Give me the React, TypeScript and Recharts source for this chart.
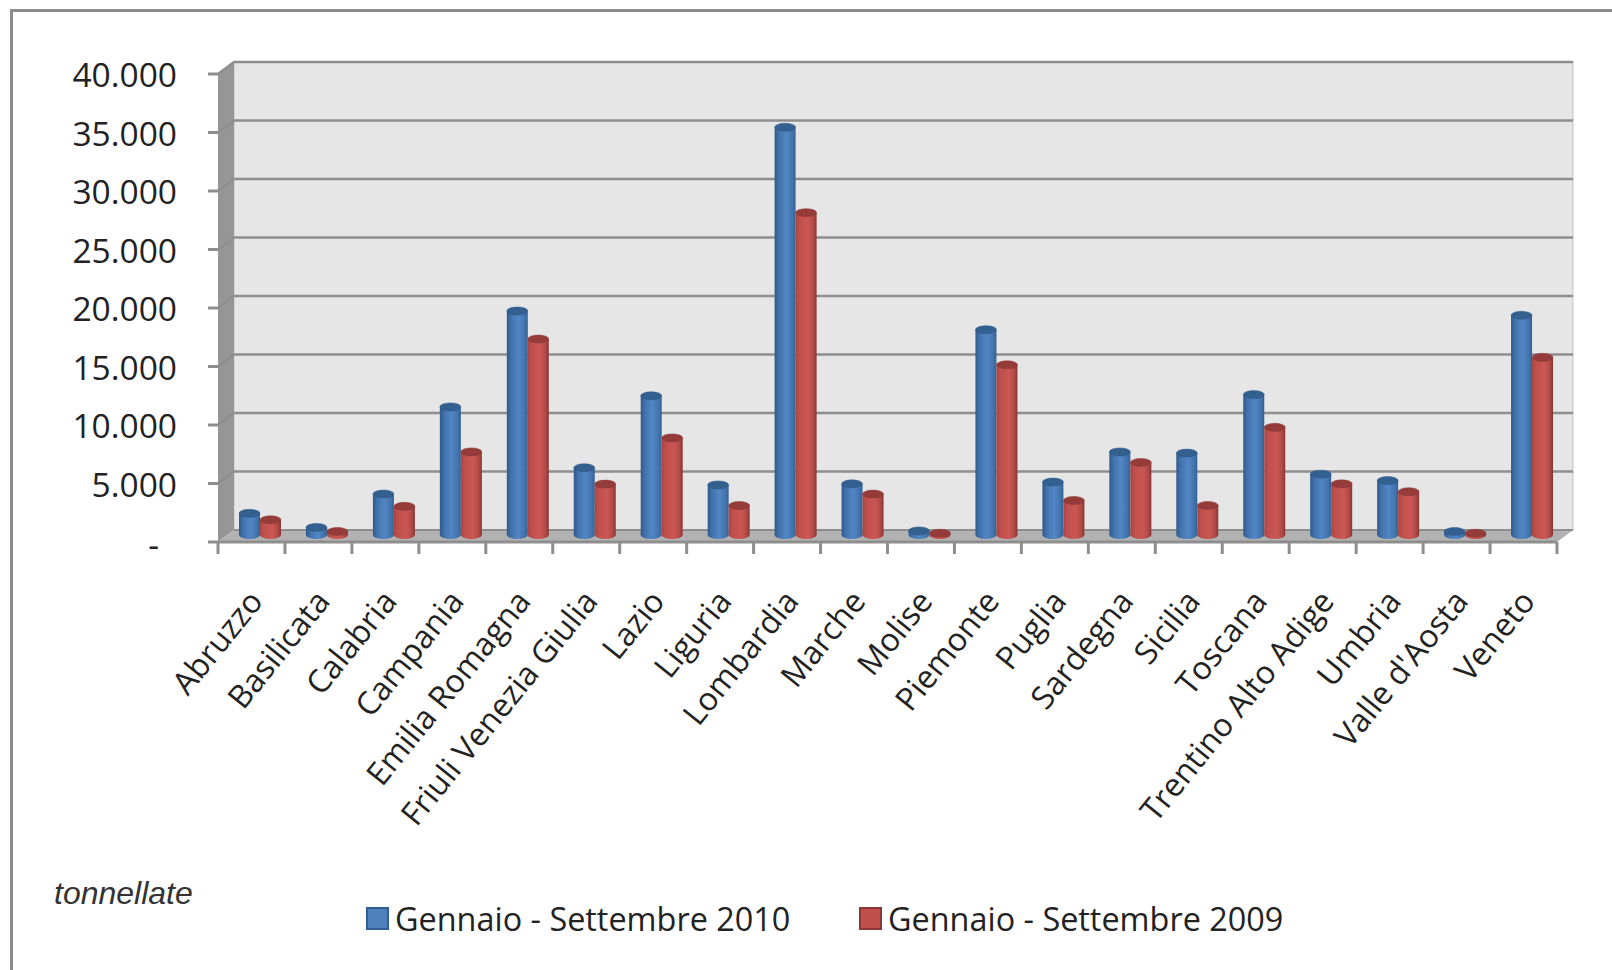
import React from "react";
import { BarChart, Bar, XAxis, YAxis, ReferenceArea, Legend } from "recharts";

const categories = ["Abruzzo","Basilicata","Calabria","Campania","Emilia Romagna","Friuli Venezia Giulia","Lazio","Liguria","Lombardia","Marche","Molise","Piemonte","Puglia","Sardegna","Sicilia","Toscana","Trentino Alto Adige","Umbria","Valle d'Aosta","Veneto"];
const values2010 = [1850,650,3500,10950,19150,5750,11900,4280,34850,4370,350,17550,4530,7100,7000,12000,5200,4650,300,18780];
const values2009 = [1300,300,2450,7100,16750,4350,8300,2520,27550,3500,150,14550,2950,6200,2520,9200,4370,3700,150,15180];
const yTicks = [0,5000,10000,15000,20000,25000,30000,35000,40000];
const seriesNames = ["Gennaio - Settembre 2010","Gennaio - Settembre 2009"];
const unitLabel = "tonnellate";

const data = categories.map((c, i) => ({ name: c, a: values2010[i], b: values2009[i] }));
const DX = 16, DY = 12;
const FONT = "'Open Sans', sans-serif";
const fmt = (v: number) => v === 0 ? "-" : v.toLocaleString("de-DE");

const Walls = ({ x, y, width, height }: any) => (
  <g>
    <rect x={x + DX} y={y - DY} width={width} height={height} fill="#e6e6e6" stroke="#c4c4c4" strokeWidth={1} />
    <polygon points={`${x},${y} ${x + DX},${y - DY} ${x + DX},${y + height - DY} ${x},${y + height}`} fill="#969696" />
    <polygon points={`${x},${y + height} ${x + DX},${y + height - DY} ${x + DX + width},${y + height - DY} ${x + width},${y + height}`} fill="#b2b2b2" />
    <line x1={x + DX} x2={x + DX + width} y1={y + height - DY} y2={y + height - DY} stroke="#8e8e8e" strokeWidth={2} />
  </g>
);

// Top edge of a band between two value ticks: one gridline on the back wall and its stub on the side wall.
const GridBand = ({ x, y, width }: any) => (
  <polyline points={`${x},${y} ${x + DX},${y - DY} ${x + width + DX},${y - DY}`} fill="none" stroke="#8e8e8e" strokeWidth={2.5} />
);

const Cylinder = ({ x, y, width, height, gid, top, edge }: any) => {
  const bx = x + 9, by = y - 7, ry = 4, rx = width / 2;
  return (
    <g>
      <path d={`M${bx},${by} L${bx},${by + height} A${rx},${ry} 0 0 0 ${bx + width},${by + height} L${bx + width},${by} Z`} fill={`url(#${gid})`} />
      <ellipse cx={bx + rx} cy={by} rx={rx} ry={ry} fill={top} stroke={edge} strokeWidth={0.5} />
    </g>
  );
};

// Tick marks sit on the band edges: half a band either side of the category centre.
const XTick = ({ x, y, payload, index, visibleTicksCount }: any) => {
  const half = payload.offset;
  const last = index === (visibleTicksCount ?? categories.length) - 1;
  return (
    <g>
      <line x1={x - half} x2={x - half} y1={y - 14} y2={y - 2} stroke="#8e8e8e" strokeWidth={3} />
      {last && <line x1={x + half} x2={x + half} y1={y - 14} y2={y - 2} stroke="#8e8e8e" strokeWidth={3} />}
      <text x={x + 13} y={y + 46} transform={`rotate(-51 ${x + 13} ${y + 46})`} textAnchor="end" fontFamily={FONT} fontSize={32} fill="#222">{payload.value}</text>
    </g>
  );
};
const YTick = ({ x, y, payload }: any) => (
  <text x={payload.value === 0 ? 159 : 177} y={y + (payload.value === 0 ? 15 : 13)} textAnchor="end" fontFamily={FONT} fontSize={33.5} fill="#222">{fmt(payload.value)}</text>
);

const LegendBox = ({ payload }: any) => (
  <div style={{ position: "relative", width: 1000, height: 0 }}>
    {(payload || []).map((p: any, i: number) => (
      <div key={i} style={{ position: "absolute", left: i * 493, top: 0, display: "flex", alignItems: "center", height: 40, fontFamily: FONT, fontSize: 32.4, color: "#222", whiteSpace: "nowrap" }}>
        <span style={{ display: "inline-block", boxSizing: "border-box", width: 23, height: 23, marginRight: 6, background: p.color, border: `2.5px solid ${i ? "#8c3836" : "#2f5f95"}` }} />
        {p.value}
      </div>
    ))}
  </div>
);

export default function App() {
  return (
    <div style={{ position: "absolute", left: 0, top: 0, width: 1612, height: 970, background: "#fff", overflow: "hidden" }}>
      <div style={{ position: "absolute", left: 10, top: 9, width: 1640, height: 1000, border: "3px solid #8c8c8c", boxSizing: "border-box" }} />
      <BarChart width={1612} height={970} data={data} barCategoryGap={0} barGap={0} barSize={21}
        margin={{ top: 74, right: 55, bottom: 0, left: 0 }} style={{ position: "absolute", left: 0, top: 0 }}>
        <defs>
          <linearGradient id="gBlue" x1="0" x2="1" y1="0" y2="0">
            <stop offset="0" stopColor="#30598a" /><stop offset="0.2" stopColor="#4172ac" /><stop offset="0.55" stopColor="#5286c4" /><stop offset="0.85" stopColor="#4274ae" /><stop offset="1" stopColor="#34608f" />
          </linearGradient>
          <linearGradient id="gRed" x1="0" x2="1" y1="0" y2="0">
            <stop offset="0" stopColor="#a84543" /><stop offset="0.2" stopColor="#c0504d" /><stop offset="0.6" stopColor="#cb5754" /><stop offset="0.85" stopColor="#b04a47" /><stop offset="1" stopColor="#853533" />
          </linearGradient>
        </defs>
        <ReferenceArea y1={0} y2={40000} ifOverflow="visible" shape={<Walls />} />
        {yTicks.slice(1).map((t, i) => (
          <ReferenceArea key={t} y1={yTicks[i]} y2={t} ifOverflow="visible" shape={<GridBand />} />
        ))}
        <XAxis dataKey="name" interval={0} height={428} tick={<XTick />} tickLine={false} tickSize={12} axisLine={{ stroke: "#8e8e8e", strokeWidth: 3 }} />
        <YAxis domain={[0, 40000]} ticks={yTicks} width={218} tick={<YTick />} tickLine={{ stroke: "#8e8e8e", strokeWidth: 3 }} tickSize={10} axisLine={false} />
        <Legend content={<LegendBox />} itemSorter="dataKey" wrapperStyle={{ left: 366, top: 898, width: 1000 }} />
        <Bar dataKey="a" name={seriesNames[0]} fill="#4f81bd" isAnimationActive={false} shape={(p: any) => <Cylinder {...p} gid="gBlue" top="#33608f" edge="#2f5a8a" />} />
        <Bar dataKey="b" name={seriesNames[1]} fill="#c0504d" isAnimationActive={false} shape={(p: any) => <Cylinder {...p} gid="gRed" top="#953c3a" edge="#8c3836" />} />
      </BarChart>
      <div style={{ position: "absolute", left: 54, top: 871, fontFamily: "'Liberation Sans', Arial, sans-serif", fontStyle: "italic", fontSize: 32, color: "#333", lineHeight: "44px" }}>{unitLabel}</div>
    </div>
  );
}
